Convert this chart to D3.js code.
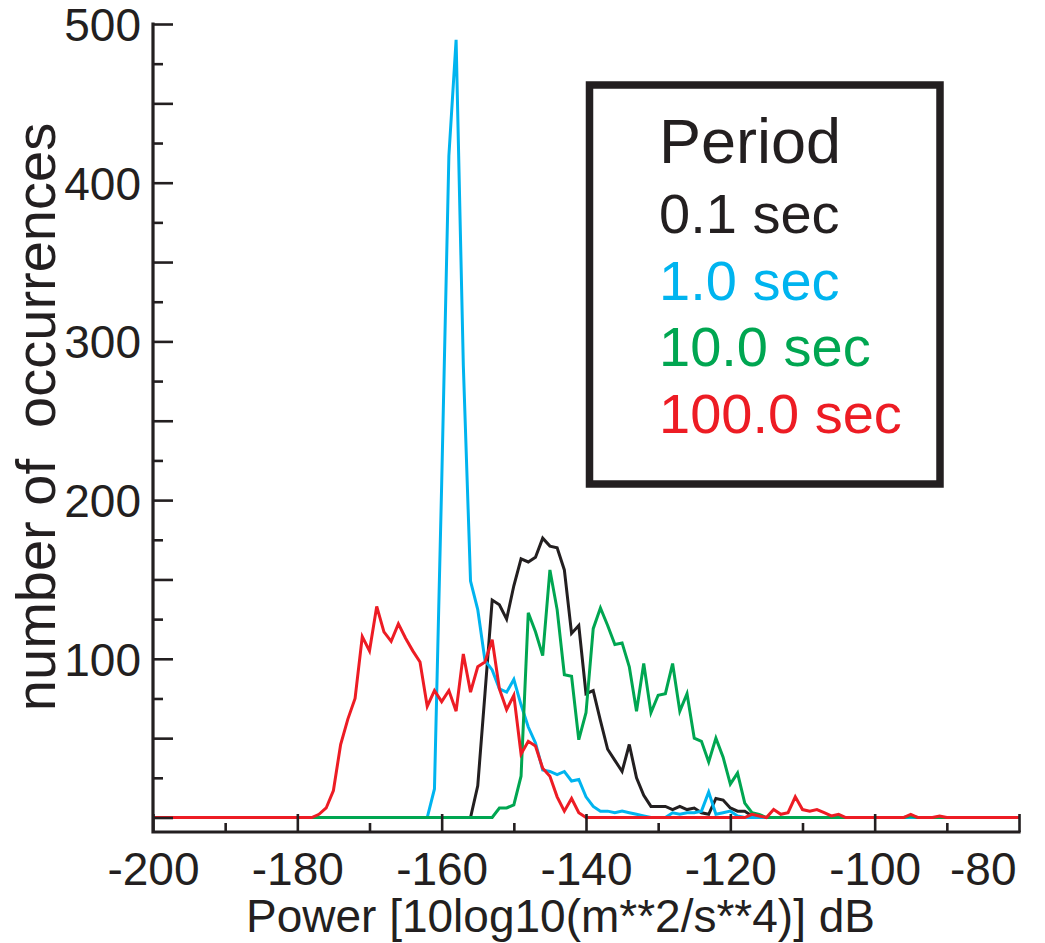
<!DOCTYPE html>
<html>
<head>
<meta charset="utf-8">
<script src="https://cdn.jsdelivr.net/npm/d3@7"></script>
<style>
body { margin: 0; background: #fff; }
svg text { font-family: Arial, "Liberation Sans", Helvetica, sans-serif; }
</style>
</head>
<body>
<svg id="chart" width="1045" height="943"></svg>
<script>
// histogram bins, 1 dB wide, -200 .. -80
const power = d3.range(-200, -79, 1);

// number of occurrences per bin
const p01 = [
  0,0,0,0,0,0,0,0,0,0, 0,0,0,0,0,0,0,0,0,0, 0,0,0,0,0,0,0,0,0,0, 0,0,0,0,0,0,0,0,0,0, 0,0,0,0,
  0,20,78,137,134,125,146,163,161,164,176,171,170,156,116,121,78,80,61,43,
  36,29,46,25,14,7,7,7,5,7,5,6,3,2,12,11,6,4,4,1,0,
  0,0,0,0,0,0,0,0,0,0, 0,0,0,0,0,0,0,0,0,0, 0,0,0,0,0,0,0,0,0,0, 0,0,0,0,0,0
];
const p1 = [
  0,0,0,0,0,0,0,0,0,0, 0,0,0,0,0,0,0,0,0,0, 0,0,0,0,0,0,0,0,0,0, 0,0,0,0,0,0,0,0,
  0,18,210,417,490,285,149,131,99,93,81,79,87,71,57,47,30,29,27,29,
  23,24,13,7,4,4,3,4,3,2,1,0,0,0,3,2,3,3,4,16,2,3,4,1,0,
  0,0,0,0,0,0,0,0,0,0, 0,0,0,0,0,0,0,0,0,0, 0,0,0,0,0,0,0,0,0,0, 0,0,0,0,0,0,0,0
];
const p10 = [
  0,0,0,0,0,0,0,0,0,0, 0,0,0,0,0,0,0,0,0,0, 0,0,0,0,0,0,0,0,0,0, 0,0,0,0,0,0,0,0,0,0, 0,0,0,0,0,0,0,
  0,6,6,8,26,129,117,102,156,131,90,89,49,66,119,132,121,109,110,95,
  67,97,66,77,78,97,67,78,50,48,35,50,38,21,28,9,3,2,0,
  0,0,0,0,0,0,0,0,0,0, 0,0,0,0,0,0,0,0,0,1, 0,0,0,0,0,0,0,0,0,0, 0,0,0,0,0
];
const p100 = [
  0,0,0,0,0,0,0,0,0,0, 0,0,0,0,0,0,0,0,0,0, 0,0,
  0,2,6,17,46,62,75,114,105,133,117,111,122,113,105,98,70,80,73,80,
  67,103,79,95,98,112,81,68,77,40,48,45,31,26,13,4,12,3,0,
  0,0,0,0,0,0,0,0,0,0, 0,0,0,0,0,0,0,0,0,0, 0,0,
  2,1,0,5,2,3,13,5,4,5,3,1,2,0,
  0,0,0,0,0,0,0,0,
  2,0,0,0,1,
  0,0,0,0,0,0,0,0,0,0,0
];

const seriesNames = ["0.1 sec", "1.0 sec", "10.0 sec", "100.0 sec"];
const seriesValues = [p01, p1, p10, p100];
const seriesColors = ["#231f20", "#00b4ef", "#00a651", "#ed1c24"];

const xTicks = [-200, -180, -160, -140, -120, -100, -80];
const xMinor = [-190, -170, -150, -130, -110, -90];
const yTicks = [100, 200, 300, 400, 500];
const yMid = [0, 50, 150, 250, 350, 450];
const yMinor = [25, 75, 125, 175, 225, 275, 325, 375, 425, 475];

const ink = "#231f20";
const svg = d3.select("#chart");

const x = d3.scaleLinear().domain([-200, -80]).range([153, 1019]);
const y = d3.scaleLinear().domain([0, 500]).range([817.5, 24]);
const axisY = 832;

// curves
const line = d3.line()
  .x((d, i) => x(power[i]))
  .y(d => y(d));

seriesValues.forEach((vals, k) => {
  svg.append("path")
    .datum(vals)
    .attr("d", line)
    .attr("fill", "none")
    .attr("stroke", seriesColors[k])
    .attr("stroke-width", 3)
    .attr("stroke-linejoin", "miter");
});

// x axis, ticks point inward
const gx = svg.append("g").attr("transform", `translate(0,${axisY})`);
gx.call(d3.axisBottom(x).tickValues(xTicks).tickSize(-18).tickSizeOuter(0)
  .tickPadding(20).tickFormat(d => String(d)));
gx.append("g").call(d3.axisBottom(x).tickValues(xMinor).tickSize(-9).tickSizeOuter(0).tickFormat(""));
gx.selectAll("path.domain").remove();
gx.selectAll("line").attr("stroke", ink).attr("stroke-width", 2.6);
gx.selectAll("text").attr("font-size", 46).attr("fill", ink);
// last label sits flush with the axis end
gx.selectAll(".tick text").filter(d => d === -80)
  .attr("text-anchor", "end").attr("x", -3);

// y axis, ticks point inward
const gy = svg.append("g").attr("transform", "translate(153,0)");
gy.call(d3.axisLeft(y).tickValues(yTicks).tickSize(-20).tickSizeOuter(0)
  .tickPadding(12).tickFormat(d => String(d)));
gy.append("g").call(d3.axisLeft(y).tickValues(yMid).tickSize(-20).tickSizeOuter(0).tickFormat(""));
gy.append("g").call(d3.axisLeft(y).tickValues(yMinor).tickSize(-10).tickSizeOuter(0).tickFormat(""));
gy.selectAll("path.domain").remove();
gy.selectAll("line").attr("stroke", ink).attr("stroke-width", 2.6);
gy.selectAll("text").attr("font-size", 46).attr("fill", ink).attr("dy", "0.36em");

// axis lines
svg.append("path")
  .attr("d", `M${x(-200)},${y(500)}V${axisY}H${x(-80)}`)
  .attr("fill", "none")
  .attr("stroke", ink)
  .attr("stroke-width", 3.2)
  .attr("stroke-linecap", "square");

// axis titles
svg.append("text")
  .attr("x", 246)
  .attr("y", 932)
  .attr("font-size", 46)
  .attr("fill", ink)
  .text("Power [10log10(m**2/s**4)] dB");

svg.append("text")
  .attr("transform", "translate(55,417) rotate(-90)")
  .attr("text-anchor", "middle")
  .attr("font-size", 56)
  .attr("fill", ink)
  .style("white-space", "pre")
  .text("number of  occurrences");

// legend
svg.append("rect")
  .attr("x", 589.5).attr("y", 85)
  .attr("width", 350.5).attr("height", 399)
  .attr("fill", "#fff")
  .attr("stroke", ink)
  .attr("stroke-width", 7.5);

svg.append("text")
  .attr("x", 659).attr("y", 163)
  .attr("font-size", 63)
  .attr("fill", ink)
  .text("Period");

svg.selectAll("text.legend")
  .data(seriesNames)
  .join("text")
  .attr("class", "legend")
  .attr("x", 659)
  .attr("y", (d, i) => 233 + i * 66.5)
  .attr("font-size", 56)
  .attr("fill", (d, i) => seriesColors[i])
  .text(d => d);
</script>
</body>
</html>
